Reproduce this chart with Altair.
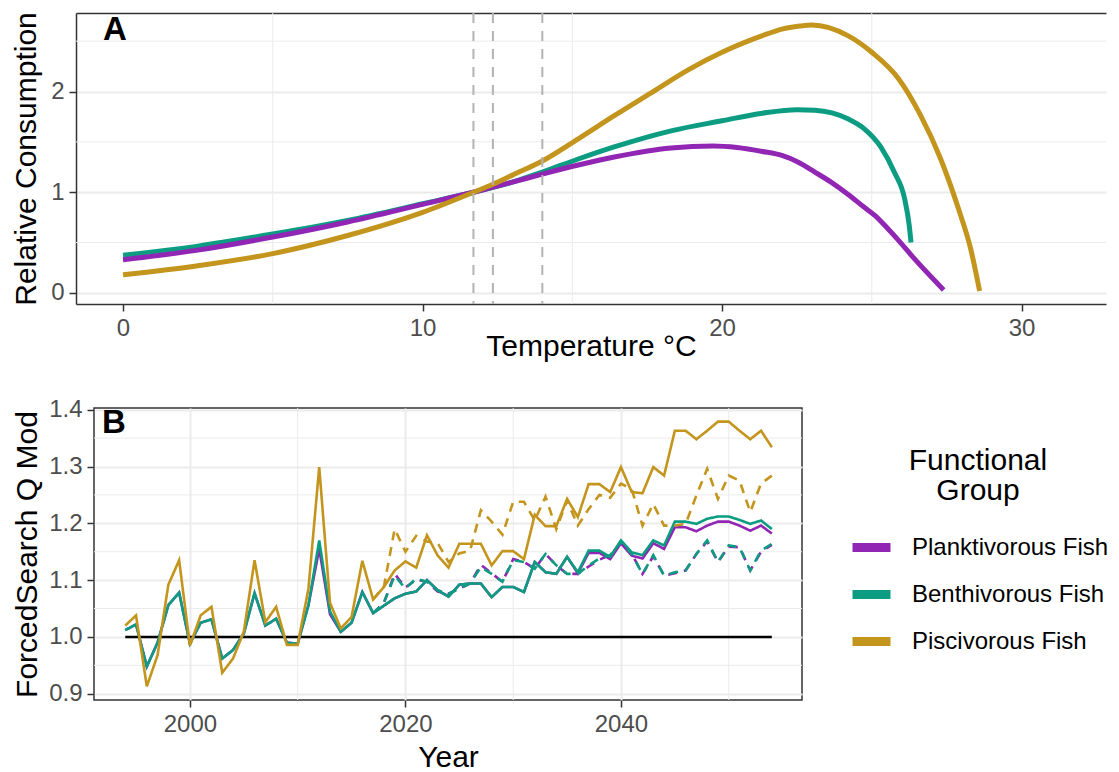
import altair as alt
import pandas as pd

FONT = "Liberation Sans"

# ---------------- Panel A: relative consumption vs temperature ----------------
plank_temp = [0, 2.5, 5, 7.5, 10, 11.7, 13, 14, 15.2, 16.4, 18.3, 19.7, 20.5, 21.35, 22.0, 22.53, 23.1, 23.64,
              24.2, 24.75, 25.1, 25.53, 25.9, 26.42, 27.4]
plank_cons = [0.33, 0.425, 0.555, 0.705, 0.88, 1.0, 1.10, 1.18, 1.27, 1.35, 1.44, 1.46, 1.445, 1.405, 1.365, 1.30, 1.20, 1.10,
              0.98, 0.85, 0.77, 0.64, 0.52, 0.34, 0.03]

benth_temp = [0, 2.5, 5, 7.5, 10, 11.7, 13, 14, 15.2, 16.4, 18.3, 20, 21.35, 22.5, 23.1, 24.2, 24.75, 25.3, 25.75, 26.1, 26.25, 26.31]
benth_cons = [0.375, 0.465, 0.585, 0.72, 0.885, 1.0, 1.10, 1.20, 1.33, 1.45, 1.61, 1.71, 1.785, 1.82, 1.815, 1.73, 1.63, 1.45, 1.20, 0.93, 0.67, 0.50]

pisc_temp = [0, 2.5, 5, 7.5, 10, 11.7, 12.35, 13, 14, 15.2, 16.4, 17.7, 18.9, 20, 21.35, 22.0, 22.6, 23.0, 24.2, 25.0, 25.9, 26.6, 27.3, 27.9, 28.3, 28.6]
pisc_cons = [0.18, 0.27, 0.39, 0.57, 0.80, 1.0, 1.08, 1.17, 1.31, 1.53, 1.76, 2.0, 2.22, 2.39, 2.555, 2.62, 2.65, 2.66, 2.555, 2.39, 2.125, 1.78, 1.33, 0.83, 0.44, 0.02]

reference_temps = [11.7, 12.35, 14.0]

# ---------------- Panel B: ForcedSearch Q Mod by year ----------------
years = list(range(1994, 2055))

benth_solid = [1.012, 1.022, 0.948, 0.990, 1.056, 1.078, 0.988, 1.025, 1.031, 0.962,
               0.977, 1.006, 1.077, 1.020, 1.032, 0.990, 0.988, 1.056, 1.170, 1.045,
               1.009, 1.025, 1.079, 1.042, 1.055, 1.068, 1.076, 1.080, 1.100, 1.082,
               1.071, 1.092, 1.094, 1.094, 1.070, 1.088, 1.088, 1.079, 1.132, 1.114,
               1.111, 1.141, 1.114, 1.152, 1.152, 1.141, 1.170, 1.149, 1.144, 1.170,
               1.161, 1.203, 1.203, 1.199, 1.208, 1.212, 1.212, 1.206, 1.199, 1.205,
               1.190]
plank_solid = [1.012, 1.022, 0.948, 0.990, 1.056, 1.078, 0.988, 1.025, 1.031, 0.962,
               0.977, 1.006, 1.077, 1.020, 1.032, 0.990, 0.988, 1.056, 1.155, 1.040,
               1.009, 1.025, 1.079, 1.042, 1.055, 1.068, 1.076, 1.080, 1.100, 1.082,
               1.071, 1.092, 1.094, 1.094, 1.070, 1.088, 1.088, 1.079, 1.132, 1.114,
               1.111, 1.141, 1.112, 1.148, 1.148, 1.137, 1.165, 1.143, 1.138, 1.165,
               1.155, 1.193, 1.193, 1.186, 1.196, 1.203, 1.203, 1.196, 1.187, 1.196,
               1.182]
pisc_solid = [1.020, 1.038, 0.913, 0.968, 1.092, 1.135, 0.985, 1.038, 1.053, 0.937,
              0.962, 1.009, 1.135, 1.026, 1.053, 0.986, 0.986, 1.085, 1.299, 1.060,
              1.015, 1.035, 1.134, 1.066, 1.088, 1.117, 1.133, 1.122, 1.179, 1.143,
              1.122, 1.164, 1.164, 1.164, 1.126, 1.151, 1.151, 1.137, 1.215, 1.195,
              1.195, 1.243, 1.211, 1.269, 1.269, 1.255, 1.299, 1.255, 1.253, 1.299,
              1.284, 1.363, 1.363, 1.348, 1.363, 1.379, 1.379, 1.363, 1.348, 1.363,
              1.334]

years_proj = list(range(2017, 2055))
benth_dashed = [1.042, 1.060, 1.108, 1.085, 1.103, 1.097, 1.082, 1.076, 1.085, 1.094,
                1.123, 1.111, 1.097, 1.135, 1.132, 1.120, 1.146, 1.126, 1.111, 1.111,
                1.126, 1.138, 1.144, 1.167, 1.146, 1.111, 1.144, 1.108, 1.114, 1.117,
                1.146, 1.170, 1.132, 1.161, 1.158, 1.117, 1.152, 1.164]
plank_dashed = [1.042, 1.060, 1.111, 1.087, 1.101, 1.097, 1.080, 1.076, 1.085, 1.094,
                1.127, 1.112, 1.097, 1.137, 1.132, 1.120, 1.146, 1.126, 1.111, 1.111,
                1.124, 1.136, 1.144, 1.165, 1.146, 1.111, 1.142, 1.108, 1.112, 1.117,
                1.146, 1.168, 1.132, 1.159, 1.158, 1.117, 1.150, 1.162]
pisc_dashed = [1.066, 1.088, 1.190, 1.150, 1.178, 1.168, 1.165, 1.132, 1.147, 1.152,
               1.223, 1.203, 1.180, 1.238, 1.238, 1.205, 1.247, 1.190, 1.240, 1.196,
               1.225, 1.250, 1.245, 1.270, 1.260, 1.196, 1.234, 1.196, 1.196, 1.199,
               1.249, 1.296, 1.243, 1.284, 1.275, 1.220, 1.270, 1.284]

baseline_value = [1.0]

groups = ["Planktivorous Fish", "Benthivorous Fish", "Piscivorous Fish"]
colors = ["#9126b5", "#0b9c82", "#c4951d"]

# axis break lists
a_x_major = [0, 10, 20, 30]
a_x_minor = [5, 15, 25]
a_y_major = [0, 1, 2]
a_y_minor = [0.5, 1.5, 2.5]
b_x_major = [2000, 2020, 2040]
b_x_minor = [2010, 2030, 2050]
b_y_major = [0.9, 1.0, 1.1, 1.2, 1.3, 1.4]
b_y_minor = [0.95, 1.05, 1.15, 1.25, 1.35]

GRID = "#ebebeb"
DARK = "#333333"

color_scale = alt.Scale(domain=groups, range=colors)

# ---------------- build panel A ----------------
curve_rows = []
for g, ts, vs in [(groups[0], plank_temp, plank_cons), (groups[1], benth_temp, benth_cons), (groups[2], pisc_temp, pisc_cons)]:
    for t, v in zip(ts, vs):
        curve_rows.append({"group": g, "temp": t, "cons": v})
curves = pd.DataFrame(curve_rows)

A_WIDTH = 1030
xa = alt.Scale(domain=[-1.57, 32.82], nice=False, zero=False)
ya = alt.Scale(domain=[-0.11, 2.78], nice=False, zero=False)

ya_axis = alt.Axis(values=a_y_major, title="Relative Consumption", domain=True, domainColor=DARK,
                   domainWidth=1.5, minExtent=29, maxExtent=29, titleLimit=600)
xa_axis = alt.Axis(values=a_x_major, title="Temperature °C", domain=True, domainColor=DARK, domainWidth=1.5,
                   titlePadding=-9, titleLimit=600)

a_vminor = alt.Chart(pd.DataFrame({"v": a_x_minor})).mark_rule(color=GRID, strokeWidth=1).encode(
    x=alt.X("v:Q", scale=xa, axis=alt.Axis(orient="top", domain=True, domainColor=DARK, domainWidth=1.5,
                                            labels=False, ticks=False, grid=False, title=None))
)
a_hminor = alt.Chart(pd.DataFrame({"cons": a_y_minor})).mark_rule(color=GRID, strokeWidth=1).encode(
    y=alt.Y("cons:Q", scale=ya, axis=ya_axis)
)

a_lines = []
for i, g in enumerate([groups[1], groups[0], groups[2]]):
    if i == 0:
        enc_x = alt.X("temp:Q", scale=xa, axis=xa_axis)
    else:
        enc_x = alt.X("temp:Q", scale=xa, axis=None)
    a_lines.append(
        alt.Chart(curves).transform_filter(alt.datum.group == g).mark_line(strokeWidth=5, interpolate="monotone").encode(
            x=enc_x,
            y=alt.Y("cons:Q", scale=ya, axis=ya_axis),
            color=alt.Color("group:N", scale=color_scale, legend=None),
            order=alt.Order("temp:Q"),
        )
    )

a_vlines = alt.Chart(pd.DataFrame({"t": reference_temps})).mark_rule(
    color="#b3b3b3", strokeDash=[10, 8], strokeWidth=2
).encode(x=alt.X("t:Q", scale=xa, axis=None))

a_tag = alt.Chart(pd.DataFrame({"lab": ["A"]})).mark_text(
    fontSize=33, fontWeight="bold", font=FONT, align="left", baseline="alphabetic", color="black"
).encode(x=alt.value(27), y=alt.value(27), text="lab:N")

panel_a = alt.layer(a_vminor, a_hminor, *a_lines, a_vlines, a_tag).resolve_axis(x="independent").properties(
    width=A_WIDTH, height=291, view=alt.ViewBackground(stroke="transparent")
)

# ---------------- build panel B ----------------
series_rows = []
for g, ys, vs, kind in [
    (groups[0], years, plank_solid, "solid"), (groups[0], years_proj, plank_dashed, "dashed"),
    (groups[1], years, benth_solid, "solid"), (groups[1], years_proj, benth_dashed, "dashed"),
    (groups[2], years, pisc_solid, "solid"), (groups[2], years_proj, pisc_dashed, "dashed"),
]:
    for y, v in zip(ys, vs):
        series_rows.append({"group": g, "kind": kind, "year": y, "q": v})
series = pd.DataFrame(series_rows)

xb = alt.Scale(domain=[1991.1, 2056.8], nice=False, zero=False)
yb = alt.Scale(domain=[0.889, 1.403], nice=False, zero=False)

xb_axis = alt.Axis(values=b_x_major, format="d", title="Year")
yb_axis = alt.Axis(values=b_y_major, format=".1f", title="ForcedSearch Q Mod", minExtent=46, maxExtent=46,
                   titleLimit=600)

b_vminor = alt.Chart(pd.DataFrame({"year": b_x_minor})).mark_rule(color=GRID, strokeWidth=1).encode(
    x=alt.X("year:Q", scale=xb, axis=xb_axis)
)
b_hminor = alt.Chart(pd.DataFrame({"q": b_y_minor})).mark_rule(color=GRID, strokeWidth=1).encode(
    y=alt.Y("q:Q", scale=yb, axis=yb_axis)
)
b_base = alt.Chart(pd.DataFrame({"year": [min(years)], "year_end": [max(years)], "q": baseline_value})).mark_rule(
    color="black", strokeWidth=2.5
).encode(
    x=alt.X("year:Q", scale=xb, axis=xb_axis),
    x2="year_end:Q",
    y=alt.Y("q:Q", scale=yb, axis=yb_axis),
)

legend_b = alt.Legend(
    title=["Functional", "Group"], orient="none", legendX=772, legendY=38,
    titleFontSize=30, titleFont=FONT, titleFontWeight="normal", titleColor="black",
    titleAlign="center", titleAnchor="middle", titleLineHeight=30, titlePadding=18,
    labelFontSize=24, labelFont=FONT, labelColor="black", labelOffset=17, labelLimit=500,
    symbolType="stroke", symbolStrokeWidth=9, symbolSize=1444, symbolDash=[1, 0],
    rowPadding=5, padding=0,
)

b_lines = []
for g in groups:
    for kind in ["solid", "dashed"]:
        dash = [1, 0] if kind == "solid" else [9, 7]
        b_lines.append(
            alt.Chart(series).transform_filter(
                (alt.datum.group == g) & (alt.datum.kind == kind)
            ).mark_line(strokeWidth=2.6, strokeDash=dash).encode(
                x=alt.X("year:Q", scale=xb, axis=xb_axis),
                y=alt.Y("q:Q", scale=yb, axis=yb_axis),
                color=alt.Color("group:N", scale=color_scale, legend=legend_b),
                order=alt.Order("year:Q"),
            )
        )

b_tag = alt.Chart(pd.DataFrame({"lab": ["B"]})).mark_text(
    fontSize=33, fontWeight="bold", font=FONT, align="left", baseline="alphabetic", color="black"
).encode(x=alt.value(8), y=alt.value(25), text="lab:N")

panel_b = alt.layer(b_vminor, b_hminor, b_base, *b_lines, b_tag).properties(width=708, height=292)

# small invisible spacer that shifts panel B's plot to the right of panel A's
spacer = alt.Chart(pd.DataFrame({"s": [0]})).mark_point(opacity=0).properties(
    width=1, height=1, view=alt.ViewBackground(stroke="transparent")
)
row_b = alt.hconcat(spacer, panel_b, spacing=17, bounds="flush")

chart = alt.vconcat(panel_a, row_b, spacing=34).resolve_scale(
    color="independent"
).resolve_legend(
    color="independent"
).properties(
    padding={"left": 2, "top": 3, "right": 0, "bottom": 0}
).configure_view(
    stroke=DARK, strokeWidth=1.5
).configure_axis(
    labelFont=FONT, titleFont=FONT, labelFontSize=24, titleFontSize=30,
    labelColor="#4d4d4d", titleColor="black", titleFontWeight="normal",
    tickColor=DARK, tickSize=7, tickWidth=1.5, labelPadding=5, titlePadding=6,
    gridColor=GRID, gridWidth=2, domain=False,
).configure_text(font=FONT)

chart.save("out.html", embed_options={"renderer": "svg", "actions": False})
